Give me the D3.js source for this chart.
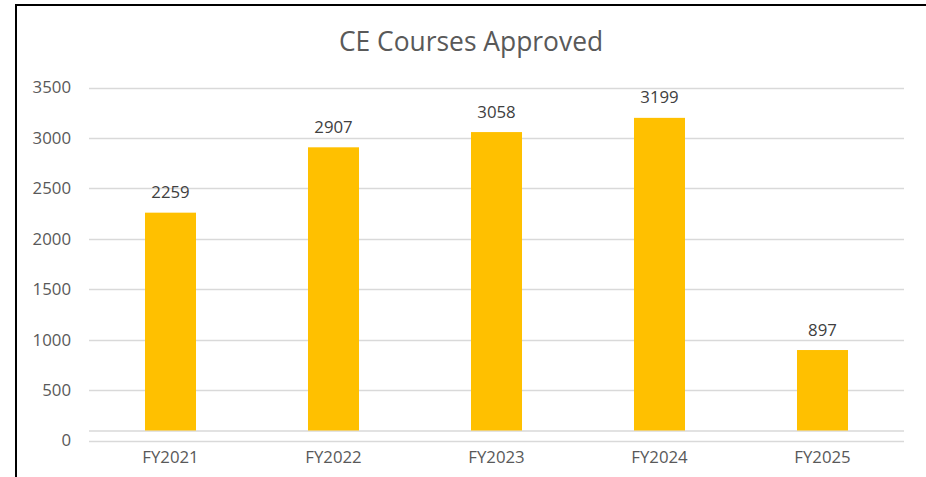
<!DOCTYPE html>
<html><head><meta charset="utf-8">
<script src="https://cdn.jsdelivr.net/npm/d3@7"></script>
<style>html,body{margin:0;padding:0;background:#fff;}svg{display:block;}</style>
</head><body>
<svg id="c" width="926" height="477"></svg>
<script>
const categories = ["FY2021","FY2022","FY2023","FY2024","FY2025"];
const values = [2259, 2907, 3058, 3199, 897];
const yTicks = [0,500,1000,1500,2000,2500,3000,3500];
const title = "CE Courses Approved";

(function(){
const svg = d3.select("#c");
const font = "'Open Sans', sans-serif";
const pLeft = 89, pRight = 904, pTop = 87.5, pBottom = 440.5;

// frame
svg.append("line").attr("x1",16).attr("x2",926).attr("y1",5).attr("y2",5).attr("stroke","#000").attr("stroke-width",2);
svg.append("line").attr("x1",16).attr("x2",16).attr("y1",4).attr("y2",477).attr("stroke","#000").attr("stroke-width",2);

const x = d3.scaleBand().domain(categories).range([pLeft,pRight]).paddingInner(0.687).paddingOuter(0.3435);
const y = d3.scaleLinear().domain([0,3500]).range([pBottom, pTop]);

// gridlines
svg.append("g").selectAll("line").data(yTicks).join("line")
  .attr("x1",pLeft).attr("x2",pRight)
  .attr("y1",d=>Math.round(y(d))+0.5).attr("y2",d=>Math.round(y(d))+0.5)
  .attr("stroke","#d9d9d9").attr("stroke-width",1.3);

const base = y(0) - 10;
svg.append("line").attr("x1",pLeft).attr("x2",pRight).attr("y1",base+0.5).attr("y2",base+0.5).attr("stroke","#d9d9d9").attr("stroke-width",1.3);

// y axis labels
const yAxis = d3.axisLeft(y).tickValues(yTicks).tickFormat(d3.format("d")).tickSize(0).tickPadding(0);
const ga = svg.append("g").attr("transform",`translate(71,0)`).call(yAxis);
ga.select(".domain").remove();
ga.selectAll("text").attr("font-family",font).attr("font-size",16.8).attr("fill","#595959");

// bars
svg.append("g").selectAll("rect").data(values).join("rect")
  .attr("x",(d,i)=>x(categories[i]))
  .attr("width",x.bandwidth())
  .attr("y",d=>y(d))
  .attr("height",d=>base - y(d))
  .attr("fill","#ffc000");

// data labels
svg.append("g").selectAll("text").data(values).join("text")
  .attr("x",(d,i)=>x(categories[i])+x.bandwidth()/2)
  .attr("y",d=>y(d)-14.5)
  .attr("text-anchor","middle")
  .attr("font-family",font).attr("font-size",16.8).attr("fill","#404040")
  .text(d=>d);

// x axis labels
const xAxis = d3.axisBottom(x).tickSize(0).tickPadding(0);
const gx = svg.append("g").attr("transform",`translate(0,${pBottom})`).call(xAxis);
gx.select(".domain").remove();
gx.selectAll("text").attr("dy",null).attr("y",22).attr("font-family",font).attr("font-size",16.8).attr("fill","#595959");

// title
svg.append("text").attr("x",471).attr("y",50.7).attr("text-anchor","middle")
  .attr("font-family",font).attr("font-size",26.4).attr("fill","#595959").text(title);
})();
</script>
</body></html>
